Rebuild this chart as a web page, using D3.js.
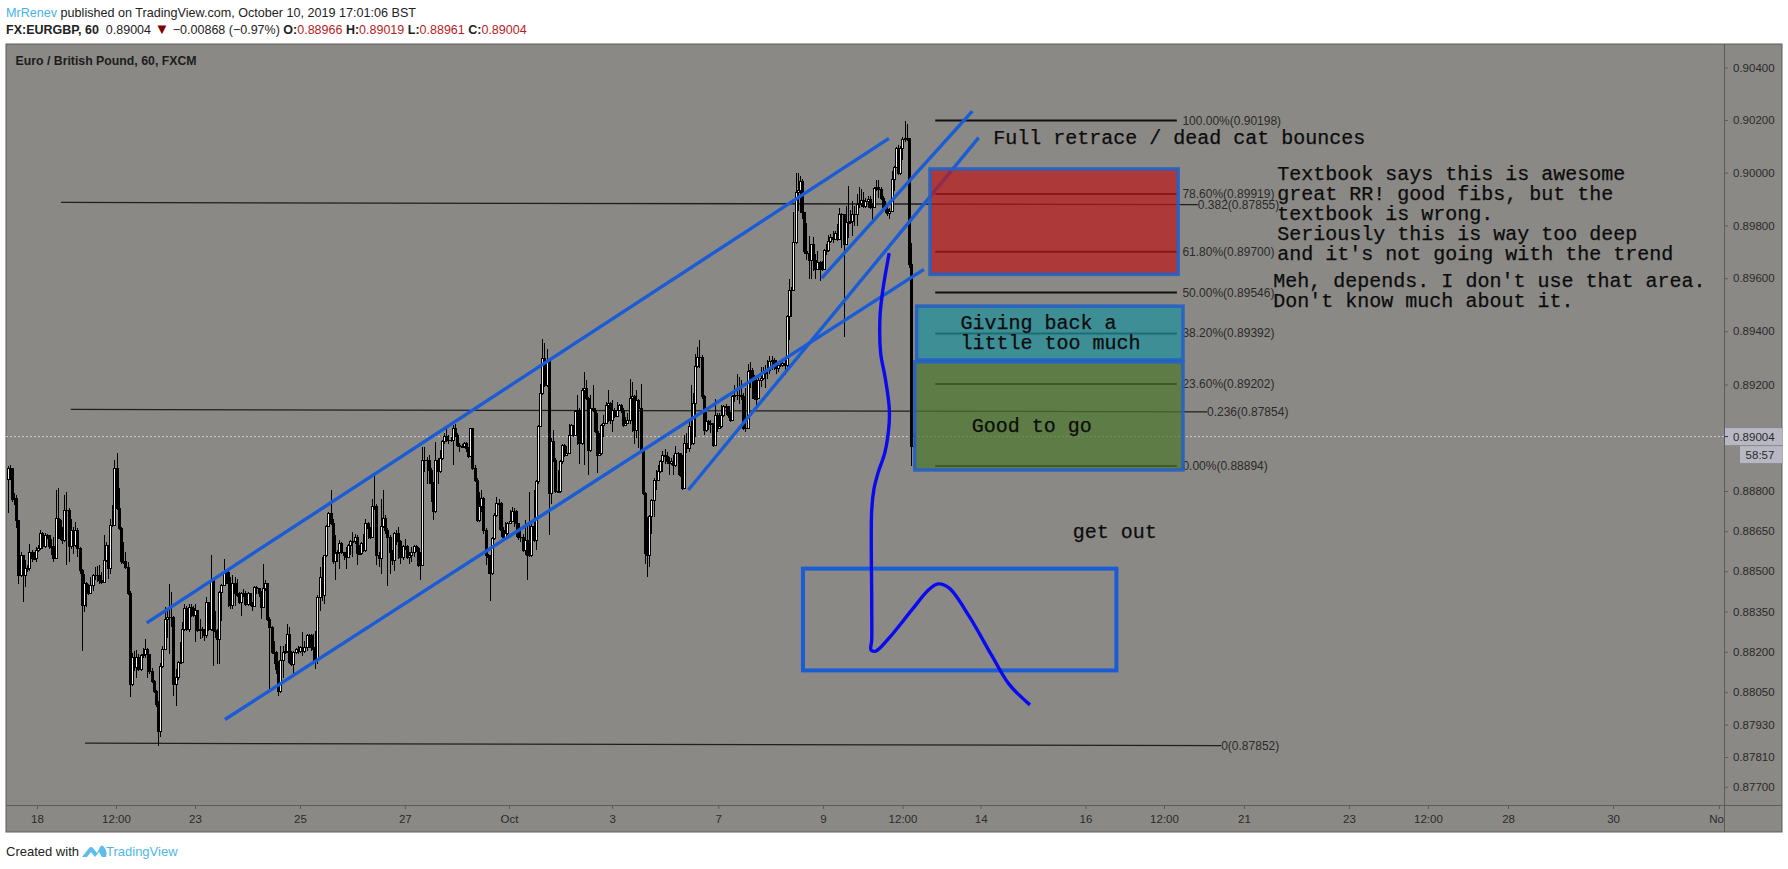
<!DOCTYPE html>
<html><head><meta charset="utf-8">
<script src="https://cdn.jsdelivr.net/npm/d3@7/dist/d3.min.js"></script>
<style>html,body{margin:0;padding:0;background:#fff;overflow:hidden}svg{display:block}</style>
</head><body><svg id="c" width="1788" height="869"></svg>
<script>
// hourly closes, highs, lows (price x 100000)
const firstOpen = 88843;
const closes = [
88885,88885,88769,88772,88691,88485,88560,88485,88510,88510,
88572,88547,88547,88578,88585,88641,88591,88635,88635,88591,
88591,88547,88697,88691,88622,88616,88728,88728,88591,88653,
88597,88653,88585,88503,88372,88453,88435,88416,88447,88485,
88485,88485,88466,88460,88541,88597,88510,88672,88672,88885,
88735,88660,88535,88535,88516,88416,88078,88178,88141,88178,
88135,88185,88191,88210,88191,88128,88091,88053,88003,87903,
88147,88210,88322,88328,88328,88328,88078,88103,88160,88160,
88285,88360,88285,88366,88360,88335,88353,88278,88285,88278,
88260,88385,88285,88466,88278,88278,88247,88422,88447,88491,
88497,88453,88372,88453,88416,88410,88385,88416,88416,88378,
88419,88378,88369,88441,88435,88416,88366,88435,88453,88322,
88291,88197,88197,88135,88053,88166,88197,88203,88266,88160,
88153,88197,88210,88203,88216,88203,88216,88260,88260,88216,
88210,88166,88403,88478,88410,88560,88666,88716,88678,88535,
88566,88572,88603,88572,88560,88553,88597,88610,88610,88628,
88566,88566,88603,88578,88678,88660,88628,88741,88741,88560,
88547,88666,88697,88653,88628,88572,88541,88641,88641,88610,
88553,88591,88591,88553,88560,88572,88591,88585,88522,88522,
88916,88916,88916,88878,88828,88722,88916,88872,88922,88985,
89003,88991,88991,88991,89035,89010,88972,88966,88966,88978,
88960,88928,89035,88885,88841,88691,88741,88772,88653,88560,
88553,88491,88622,88710,88753,88753,88653,88628,88641,88678,
88685,88722,88722,88678,88628,88628,88578,88616,88560,88560,
88666,88616,88835,89041,89166,89297,89197,89291,88791,88985,
88916,88797,88797,88910,88972,88935,88941,89010,89047,89010,
89097,89103,88978,89178,89185,89147,88953,89110,89103,89022,
88935,88941,89047,89053,89122,89128,89066,89103,89078,89103,
89122,89103,89047,89053,89066,89147,89153,89028,89141,89110,
88947,88791,88566,88560,88703,88766,88841,88841,88872,88910,
88935,88928,88910,88903,88910,88897,88941,88941,88860,88810,
88978,88960,89041,88978,89128,89266,89303,89303,89153,89028,
89060,89053,89053,88972,89085,89035,89041,89085,89116,89116,
89085,89066,89153,89160,89160,89160,89153,89035,89035,89247,
89253,89216,89147,89147,89216,89222,89241,89253,89253,89285,
89291,89272,89260,89272,89272,89278,89272,89454,89554,89554,
89735,89925,89931,89968,89850,89700,89693,89668,89727,89668,
89635,89660,89635,89635,89704,89704,89741,89754,89748,89769,
89748,89842,89842,89729,89810,89810,89816,89842,89842,89880,
89883,89896,89873,89892,89898,89867,89869,89939,89942,89936,
89902,89867,89860,89847,89854,89975,90020,90092,89996,90092,
90124,90130,90130,89654,88966,89004];
const highs = [
88893,88897,88885,88791,88785,88691,88572,88553,88541,88522,
88603,88578,88572,88591,88597,88656,88647,88643,88641,88628,
88622,88628,88803,88810,88697,88666,88785,88797,88735,88697,
88666,88685,88660,88591,88510,88491,88460,88453,88478,88491,
88516,88518,88522,88497,88635,88610,88597,88697,88747,88916,
88941,88810,88666,88610,88572,88535,88428,88197,88203,88206,
88191,88191,88216,88247,88216,88191,88141,88097,88060,88016,
88160,88222,88366,88360,88453,88422,88335,88135,88166,88235,
88310,88378,88372,88378,88378,88372,88378,88353,88322,88291,
88285,88403,88385,88560,88472,88353,88285,88428,88453,88547,
88510,88503,88478,88485,88478,88472,88422,88422,88435,88426,
88422,88416,88385,88445,88447,88435,88428,88528,88466,88453,
88328,88297,88241,88203,88166,88222,88222,88228,88303,88291,
88203,88203,88216,88222,88222,88272,88241,88266,88266,88266,
88266,88278,88410,88516,88553,88560,88672,88722,88803,88697,
88635,88578,88616,88610,88572,88591,88603,88616,88647,88641,
88635,88597,88610,88641,88697,88685,88666,88772,88866,88753,
88572,88772,88803,88710,88660,88635,88578,88647,88653,88666,
88616,88597,88622,88597,88572,88591,88597,88597,88591,88572,
88966,88966,88928,88935,88885,88835,88985,88922,88953,88991,
89016,89035,89010,89003,89047,89051,89016,88981,88978,88985,
88985,88966,89038,89038,88897,88847,88797,88803,88778,88660,
88566,88560,88628,88716,88778,88772,88760,88666,88685,88685,
88728,88741,88735,88728,88666,88660,88641,88691,88678,88797,
88678,88803,88841,89047,89203,89372,89356,89335,89297,88997,
89028,88922,88878,88916,88978,88976,88969,89053,89053,89047,
89103,89160,89110,89185,89247,89216,89153,89160,89197,89110,
89091,89016,89053,89085,89135,89178,89135,89141,89110,89135,
89128,89128,89110,89078,89091,89222,89210,89160,89178,89147,
89203,88953,88797,88703,88710,88772,88847,88878,88897,88916,
88951,88956,88947,88928,88922,88935,88969,88947,88941,88935,
89010,89016,89060,89197,89166,89316,89341,89368,89310,89160,
89097,89066,89066,89035,89147,89091,89091,89122,89122,89128,
89119,89097,89160,89197,89241,89228,89216,89166,89185,89278,
89285,89260,89235,89222,89228,89266,89266,89272,89291,89306,
89306,89301,89291,89285,89291,89297,89297,89460,89598,89567,
89850,90000,90000,89987,89975,89850,89810,89760,89729,89756,
89693,89704,89666,89666,89710,89729,89764,89766,89779,89779,
89804,89867,89848,89842,89873,89951,89860,89891,89873,89918,
89947,89938,89925,89902,89911,89911,89886,89944,89973,89973,
89944,89911,89891,89873,89867,90006,90026,90098,90105,90100,
90137,90198,90185,90130,89735,89019];
const lows = [
88716,88841,88760,88747,88660,88453,88478,88385,88441,88497,
88503,88535,88541,88535,88572,88578,88585,88588,88622,88585,
88560,88535,88547,88622,88616,88603,88610,88522,88535,88585,
88566,88591,88553,88491,88203,88347,88366,88410,88416,88428,
88466,88460,88453,88453,88472,88535,88472,88491,88666,88672,
88728,88653,88528,88528,88510,88410,88032,88072,88128,88103,
88128,88128,88178,88178,88103,88116,88085,88047,87995,87852,
87885,88141,88210,88253,88191,88291,88035,88000,88097,88153,
88160,88278,88278,88272,88328,88328,88235,88272,88247,88253,
88241,88253,88278,88278,88147,88253,88153,88153,88316,88447,
88453,88366,88360,88360,88372,88403,88378,88335,88403,88372,
88372,88369,88351,88366,88416,88403,88322,88366,88428,88316,
88053,88191,88153,88116,88035,88047,88103,88191,88197,88153,
88147,88116,88191,88191,88197,88185,88197,88203,88216,88203,
88166,88135,88153,88353,88391,88378,88553,88666,88672,88528,
88466,88535,88510,88566,88541,88510,88551,88560,88553,88603,
88522,88560,88560,88572,88572,88622,88622,88635,88728,88522,
88516,88491,88660,88641,88447,88491,88522,88503,88597,88547,
88528,88541,88578,88547,88526,88535,88553,88572,88516,88466,
88547,88872,88828,88828,88760,88693,88719,88828,88866,88916,
88978,88985,88978,88985,88897,89003,88966,88947,88960,88960,
88947,88922,88926,88878,88835,88685,88685,88722,88641,88522,
88491,88391,88485,88616,88703,88653,88628,88622,88628,88635,
88678,88685,88666,88628,88616,88610,88572,88560,88466,88553,
88553,88610,88578,88828,89041,89160,89191,89191,88635,88753,
88910,88791,88791,88791,88903,88928,88935,88941,89010,89003,
89010,88972,88903,88972,88897,89141,88860,88947,89097,89016,
88866,88935,88935,89003,89053,89060,89053,89022,89072,89076,
89101,89091,89041,89043,89060,89053,89022,88978,88997,88960,
88941,88785,88528,88478,88516,88641,88703,88803,88841,88866,
88872,88903,88903,88860,88897,88860,88891,88860,88853,88803,
88810,88941,88947,88972,88972,89003,89260,89260,89147,89010,
89022,89028,89016,88966,89016,89022,89035,89038,89078,89085,
89072,89060,89066,89135,89141,89128,89141,89028,89022,89035,
89185,89147,89141,89122,89147,89191,89216,89185,89222,89241,
89253,89253,89238,89247,89266,89266,89235,89266,89366,89454,
89554,89729,89854,89847,89825,89693,89668,89598,89598,89629,
89598,89632,89589,89629,89632,89689,89698,89735,89735,89748,
89741,89748,89716,89379,89729,89754,89804,89760,89797,89797,
89866,89871,89866,89867,89867,89864,89810,89867,89929,89902,
89895,89860,89847,89835,89823,89854,89932,90020,89990,89990,
90049,90117,90120,89640,88894,88961];

const priceTicks = [0.904,0.902,0.900,0.898,0.896,0.894,0.892,0.888,0.8865,0.885,0.8835,0.882,0.8805,0.8793,0.8781,0.877];
const timeTickBars = [13.5,49.7,85.9,134,182,229.7,277,325.6,373.6,410,445.8,493.8,529.8,566.4,614.5,650.7,687.4,735.5,784];
const timeTickLabels = ["18","12:00","23","25","27","Oct","3","7","9","12:00","14","16","12:00","21","23","12:00","28","30","Nov"];

// drawings: [bar, price x 100000]
const trendLines = [
 [[63.8,88308],[403.8,90130]],
 [[99.6,87949],[419.8,89634]],
 [[311.9,88804],[444.9,90133]],
 [[373,89601],[442,90234]]
];
const longFibLines = [
 {a:[24.5,89887],b:[545.3,89879],label:"0.382(0.87855)"},
 {a:[29,89106],b:[549.5,89097],label:"0.236(0.87854)"},
 {a:[35.5,87861],b:[556,87852],label:"0(0.87852)"}
];
const fibLevels = [
 [90198,"100.00%(0.90198)"],[89919,"78.60%(0.89919)"],[89700,"61.80%(0.89700)"],
 [89546,"50.00%(0.89546)"],[89392,"38.20%(0.89392)"],[89202,"23.60%(0.89202)"],[88894,"0.00%(0.88894)"]
];
const fibBars = [425,535.7];
const zones = [
 {b0:422.6,b1:536.3,p0:90014,p1:89615,fill:"rgba(187,27,28,.72)"},
 {b0:416.5,b1:538.5,p0:89495,p1:89292,fill:"rgba(33,144,157,.72)"},
 {b0:415.6,b1:538.5,p0:89285,p1:88879,fill:"rgba(78,120,46,.72)"}
];
const box = {b0:364.4,b1:508,p0:88510,p1:88131};
const handCurve = [[403.9,89695],[401,89556],[399.7,89455],[400,89318],[402,89229],[403.9,89116],[403.9,89055],[402,88947],[398.8,88868],[397,88811],[395.9,88729],[395.9,88393],[395.9,88244],[395.6,88207],[397.8,88203],[403.8,88251],[414.3,88356],[422.1,88432],[426.3,88453],[431.3,88438],[440.5,88333],[451,88185],[458.8,88080],[468.4,88003]];
const lastPrice = 89004;

const notes = [
 {b:451.6,p:90108,lines:["Full retrace / dead cat bounces"]},
 {b:581.7,p:89972,lines:["Textbook says this is awesome","great RR! good fibs, but the","textbook is wrong.","Seriously this is way too deep","and it's not going with the trend"]},
 {b:579.9,p:89568,lines:["Meh, depends. I don't use that area.","Don't know much about it."]},
 {b:436.6,p:89408,lines:["Giving back a","little too much"]},
 {b:441.7,p:89022,lines:["Good to go"]},
 {b:488,p:88625,lines:["get out"]}
];

const panel={l:6,t:44,r:1782,b:832,ax:1724,ay:805};
const BG="#8a8986", LINE="#5c5c5a", TXT="#2a2a2a";
const svg=d3.select("#c");
const x=d3.scaleLinear().domain([0,415]).range([7.5,913.4]);
const y=d3.scaleLog().domain([0.877,0.902]).range([786.7,120]);
const py=v=>y(v/1e5);
const sans="'Liberation Sans',Arial,sans-serif";
const mono="'Liberation Mono','Courier New',monospace";

const bars=closes.map((c,i)=>{const o=i?closes[i-1]:firstOpen;return{i,o,c,up:c>=o,h:Math.max(highs[i],o,c),l:Math.min(lows[i],o,c)}});

// panel
svg.append("rect").attr("x",panel.l).attr("y",panel.t).attr("width",panel.r-panel.l).attr("height",panel.b-panel.t).attr("fill",BG).attr("stroke",LINE);
const defs=svg.append("defs");
defs.append("clipPath").attr("id","plot").append("rect").attr("x",panel.l).attr("y",panel.t).attr("width",panel.ax-panel.l).attr("height",panel.ay-panel.t);
defs.append("clipPath").attr("id","timeClip").append("rect").attr("x",panel.l).attr("y",panel.ay).attr("width",panel.ax-panel.l).attr("height",panel.b-panel.ay);

const plot=svg.append("g").attr("clip-path","url(#plot)");

// current price line
plot.append("line").attr("x1",panel.l).attr("x2",panel.ax).attr("y1",py(lastPrice)).attr("y2",py(lastPrice))
 .attr("stroke","#cfcfd4").attr("stroke-width",1).attr("stroke-dasharray","2 2");

// long fib lines + fib levels
plot.selectAll(".lf").data(longFibLines).join("line").attr("class","lf")
 .attr("x1",d=>x(d.a[0])).attr("y1",d=>py(d.a[1])).attr("x2",d=>x(d.b[0])).attr("y2",d=>py(d.b[1]))
 .attr("stroke","#1f1f1f").attr("stroke-width",1.3);
plot.selectAll(".lfl").data(longFibLines).join("text").attr("class","lfl")
 .attr("x",d=>x(d.b[0])).attr("y",d=>py(d.b[1])+4).attr("font-family",sans).attr("font-size",12).attr("fill",TXT).text(d=>d.label);
plot.selectAll(".fl").data(fibLevels).join("line").attr("class","fl")
 .attr("x1",x(fibBars[0])).attr("x2",x(fibBars[1])).attr("y1",d=>py(d[0])).attr("y2",d=>py(d[0]))
 .attr("stroke","#111").attr("stroke-width",2);
plot.selectAll(".ft").data(fibLevels).join("text").attr("class","ft")
 .attr("x",x(fibBars[1])+5.5).attr("y",d=>py(d[0])+4).attr("font-family",sans).attr("font-size",12).attr("fill",TXT).text(d=>d[1]);

// candles: wicks, then hollow up bodies, then solid down bodies
const cg=plot.append("g");
cg.selectAll(".w").data(bars).join("line").attr("class","w").attr("shape-rendering","crispEdges")
 .attr("x1",d=>Math.round(x(d.i))+.5).attr("x2",d=>Math.round(x(d.i))+.5)
 .attr("y1",d=>py(d.h)).attr("y2",d=>py(d.l)).attr("stroke","#000").attr("stroke-width",1);
cg.selectAll(".b").data(bars.filter(d=>d.up).concat(bars.filter(d=>!d.up))).join("rect").attr("class","b").attr("shape-rendering","crispEdges")
 .attr("x",d=>Math.round(x(d.i))-.5).attr("width",2)
 .attr("y",d=>py(Math.max(d.o,d.c))).attr("height",d=>Math.max(.5,py(Math.min(d.o,d.c))-py(Math.max(d.o,d.c))))
 .attr("fill",d=>d.up?"#f2f2f2":"#000").attr("stroke","#000").attr("stroke-width",1);

// trend lines
const TREND="#1a5cd6";
plot.selectAll(".t").data(trendLines).join("line").attr("class","t")
 .attr("x1",d=>x(d[0][0])).attr("y1",d=>py(d[0][1])).attr("x2",d=>x(d[1][0])).attr("y2",d=>py(d[1][1]))
 .attr("stroke",TREND).attr("stroke-width",3.4);

// zones
plot.selectAll(".z").data(zones).join("rect").attr("class","z")
 .attr("x",d=>x(d.b0)).attr("y",d=>py(d.p0)).attr("width",d=>x(d.b1)-x(d.b0)).attr("height",d=>py(d.p1)-py(d.p0))
 .attr("fill",d=>d.fill).attr("stroke","#2460c4").attr("stroke-opacity",.9).attr("stroke-width",3.5);
plot.append("rect").attr("x",x(box.b0)).attr("y",py(box.p0)).attr("width",x(box.b1)-x(box.b0)).attr("height",py(box.p1)-py(box.p0))
 .attr("fill","none").attr("stroke",TREND).attr("stroke-width",4);

// hand drawn curve
plot.append("path").attr("d",d3.line().x(d=>x(d[0])).y(d=>py(d[1])).curve(d3.curveCatmullRom.alpha(.5))(handCurve))
 .attr("fill","none").attr("stroke","#0a0af0").attr("stroke-width",3.4);

// notes
notes.forEach(n=>{
 const t=plot.append("text").attr("x",x(n.b)).attr("y",py(n.p)).attr("font-family",mono).attr("font-size",20)
  .attr("fill","#0c0c0c").attr("stroke","#0c0c0c").attr("stroke-width",.25);
 n.lines.forEach((l,k)=>t.append("tspan").attr("x",x(n.b)).attr("dy",k?20:0).text(l));
});

plot.append("text").attr("x",15.5).attr("y",65).attr("font-family",sans).attr("font-weight",700).attr("font-size",12.3).attr("fill","#1c1c1c").text("Euro / British Pound, 60, FXCM");

// axes
const timeAxis=d3.axisBottom(x).tickValues(timeTickBars).tickFormat((d,k)=>timeTickLabels[k]).tickSize(4).tickPadding(6);
const ta=svg.append("g").attr("clip-path","url(#timeClip)").append("g").attr("transform",`translate(0,${panel.ay})`).call(timeAxis);
const priceAxis=d3.axisRight(y).tickValues(priceTicks).tickFormat(d3.format(".5f")).tickSize(4).tickPadding(5);
const pa=svg.append("g").attr("transform",`translate(${panel.ax},0)`).call(priceAxis);
[ta,pa].forEach(a=>{
 a.select(".domain").remove();
 a.selectAll("line").attr("stroke",LINE);
 a.selectAll("text").attr("font-family",sans).attr("font-size",11.5).attr("fill",TXT);
});
svg.append("line").attr("x1",panel.l).attr("x2",panel.r).attr("y1",panel.ay+.5).attr("y2",panel.ay+.5).attr("stroke",LINE);
svg.append("line").attr("x1",panel.ax+.5).attr("x2",panel.ax+.5).attr("y1",panel.t).attr("y2",panel.b).attr("stroke",LINE);

// price tags
const ly=py(lastPrice);
svg.append("rect").attr("x",panel.ax+1).attr("y",ly-8.5).attr("width",panel.r-panel.ax-1).attr("height",17).attr("fill","#b7b8c3");
svg.append("line").attr("x1",panel.ax).attr("x2",panel.ax+4).attr("y1",ly).attr("y2",ly).attr("stroke","#333");
svg.append("text").attr("x",panel.ax+9).attr("y",ly+4).attr("font-family",sans).attr("font-size",11.5).attr("fill",TXT).text("0.89004");
svg.append("rect").attr("x",1740).attr("y",ly+9.5).attr("width",panel.r-1740).attr("height",17).attr("fill","#b7b8c3");
svg.append("text").attr("x",1760).attr("y",ly+22).attr("text-anchor","middle").attr("font-family",sans).attr("font-size",11.5).attr("fill",TXT).text("58:57");

// header
const h1=svg.append("text").attr("x",6).attr("y",17).attr("font-family",sans).attr("font-size",12.6).attr("fill","#222");
h1.append("tspan").attr("fill","#45b3e7").text("MrRenev");
h1.append("tspan").text(" published on TradingView.com, October 10, 2019 17:01:06 BST");
const h2=svg.append("text").attr("x",6).attr("y",34).attr("font-family",sans).attr("font-size",12.5).attr("fill","#222").style("white-space","pre");
const seg=(t,o={})=>{const s=h2.append("tspan").text(t);if(o.b)s.attr("font-weight",700);if(o.c)s.attr("fill",o.c);if(o.s)s.attr("font-size",o.s);};
const RED="#b71c1c";
seg("FX:EURGBP, 60",{b:1});seg("  0.89004 ");seg("▼",{c:"#7f0000",s:15});seg(" −0.00868 (−0.97%) ");
seg("O:",{b:1});seg("0.88966 ",{c:RED});seg("H:",{b:1});seg("0.89019 ",{c:RED});seg("L:",{b:1});seg("0.88961 ",{c:RED});seg("C:",{b:1});seg("0.89004",{c:RED});

// footer
svg.append("text").attr("x",6).attr("y",856).attr("font-family",sans).attr("font-size",13).attr("fill","#222").text("Created with");
svg.append("path").attr("transform","translate(82,844)").attr("fill","#5cbdea")
 .attr("d","M0 13 L7 4 Q9 2 11 4 L15 9 L18 3 Q20 0 22 3 L24 6 Q25 10 24 13 L20 13 L17 8 L13 13 L9 8 L5 13 Z");
svg.append("text").attr("x",106).attr("y",856).attr("font-family",sans).attr("font-size",13).attr("fill","#4fb6e8").text("TradingView");
</script></body></html>
